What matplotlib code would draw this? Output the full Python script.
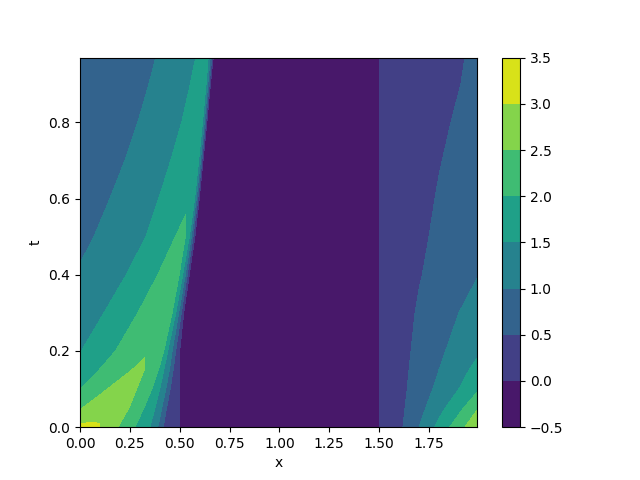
import numpy as np
import matplotlib
matplotlib.use("Agg")
import matplotlib.pyplot as plt

# time rows of the solution table
t_rows = [0.0, 0.05, 0.1, 0.15, 0.2, 0.3, 0.4, 0.5, 0.6, 0.7, 0.8, 0.9, 0.97]

# left hump: x nodes for each row (last node = front, where u falls to 0)
x_left = [
    [0.0, 0.05, 0.09, 0.14, 0.19, 0.275, 0.35, 0.39, 0.417, 0.5],
    [0.0, 0.06, 0.12, 0.19, 0.245, 0.32, 0.376, 0.41, 0.434, 0.5],
    [0.0, 0.137, 0.2, 0.25, 0.283, 0.36, 0.40, 0.43, 0.452, 0.5],
    [0.0, 0.095, 0.26, 0.295, 0.322, 0.393, 0.42, 0.448, 0.467, 0.5],
    [0.0, 0.178, 0.28, 0.34, 0.38, 0.42, 0.44, 0.462, 0.48, 0.5],
    [0.0, 0.12, 0.29, 0.37, 0.42, 0.462, 0.48, 0.495, 0.508, 0.52],
    [0.0, 0.232, 0.39, 0.445, 0.475, 0.497, 0.515, 0.528, 0.538, 0.548],
    [0.0, 0.07, 0.33, 0.478, 0.505, 0.528, 0.548, 0.558, 0.567, 0.576],
    [0.0, 0.15, 0.395, 0.5, 0.55, 0.566, 0.575, 0.583, 0.591, 0.598],
    [0.0, 0.225, 0.455, 0.54, 0.578, 0.59, 0.595, 0.604, 0.611, 0.617],
    [0.0, 0.29, 0.51, 0.575, 0.6, 0.609, 0.614, 0.623, 0.63, 0.636],
    [0.0, 0.345, 0.553, 0.6, 0.619, 0.626, 0.632, 0.641, 0.648, 0.654],
    [0.0, 0.38, 0.58, 0.615, 0.632, 0.638, 0.643, 0.653, 0.661, 0.668],
]
u_left = [
    [3.12, 3.1, 3.04, 2.8, 2.5, 2.0, 1.5, 1.0, 0.5, 0.0],
    [2.45, 2.7, 2.85, 2.76, 2.5, 2.0, 1.5, 1.0, 0.5, 0.0],
    [2.0, 2.5, 2.72, 2.7, 2.5, 2.0, 1.5, 1.0, 0.5, 0.0],
    [1.75, 2.0, 2.5, 2.58, 2.5, 2.0, 1.5, 1.0, 0.5, 0.0],
    [1.48, 2.0, 2.35, 2.46, 2.38, 2.0, 1.5, 1.0, 0.5, 0.0],
    [1.22, 1.5, 2.0, 2.22, 2.2, 2.0, 1.5, 1.0, 0.5, 0.0],
    [1.03, 1.5, 2.0, 2.12, 2.1, 2.0, 1.5, 1.0, 0.5, 0.0],
    [0.93, 1.0, 1.5, 2.0, 2.1, 2.0, 1.5, 1.0, 0.5, 0.0],
    [0.86, 1.0, 1.5, 1.8, 1.93, 1.88, 1.5, 1.0, 0.5, 0.0],
    [0.8, 1.0, 1.5, 1.75, 1.84, 1.8, 1.5, 1.0, 0.5, 0.0],
    [0.75, 1.0, 1.5, 1.68, 1.74, 1.72, 1.5, 1.0, 0.5, 0.0],
    [0.71, 1.0, 1.5, 1.62, 1.66, 1.65, 1.5, 1.0, 0.5, 0.0],
    [0.68, 1.0, 1.5, 1.58, 1.62, 1.6, 1.5, 1.0, 0.5, 0.0],
]

# right ramp (x >= 1.5), same nodes for every row
x_right = [1.5, 1.6, 1.7, 1.8, 1.9, 1.99]
u_right = [
    [0.0, 0.38, 1.0, 1.63, 2.31, 2.87],
    [0.0, 0.36, 0.83, 1.34, 1.85, 2.45],
    [0.0, 0.34, 0.73, 1.12, 1.5, 1.9],
    [0.0, 0.33, 0.67, 1.0, 1.33, 1.63],
    [0.0, 0.32, 0.62, 0.91, 1.18, 1.42],
    [0.0, 0.3, 0.55, 0.77, 1.0, 1.17],
    [0.0, 0.28, 0.47, 0.65, 0.82, 0.98],
    [0.0, 0.26, 0.42, 0.58, 0.73, 0.87],
    [0.0, 0.25, 0.38, 0.53, 0.67, 0.8],
    [0.0, 0.24, 0.36, 0.48, 0.6, 0.72],
    [0.0, 0.23, 0.34, 0.44, 0.54, 0.64],
    [0.0, 0.22, 0.32, 0.41, 0.49, 0.58],
    [0.0, 0.21, 0.31, 0.39, 0.47, 0.56],
]

levels = np.arange(-0.5, 3.51, 0.5)

X = np.hstack([np.array(x_left), np.tile(x_right, (len(t_rows), 1))])
U = np.hstack([np.array(u_left), np.array(u_right)])
T = np.repeat(np.array(t_rows)[:, None], X.shape[1], axis=1)

fig = plt.figure(figsize=(6.4, 4.8), dpi=100)
cs = plt.contourf(X, T, U, levels=levels)
plt.colorbar(cs)
plt.xlabel("x")
plt.ylabel("t")
plt.savefig("out.png")
